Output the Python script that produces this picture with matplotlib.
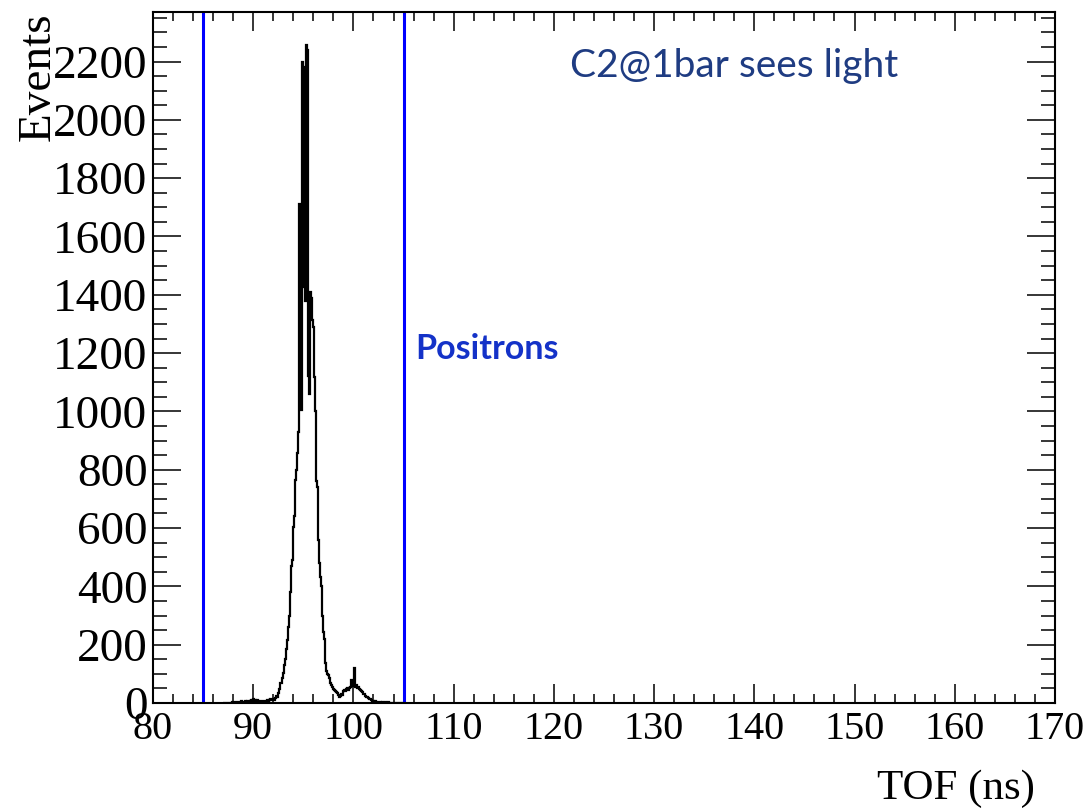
import numpy as np
import matplotlib
matplotlib.use("Agg")
import matplotlib.pyplot as plt
from matplotlib.ticker import MultipleLocator

# histogram data: 0.1 ns bins starting at 87.0 ns
BIN_START = 87.0
BIN_WIDTH = 0.1
counts = [
    # 87.0 - 88.9
    0, 0, 0, 0, 0, 0, 0, 0, 1, 2,
    3, 2, 4, 3, 2, 5, 3, 4, 6, 3,
    # 89.0 - 90.9
    5, 4, 7, 5, 6, 8, 5, 7, 9, 6,
    14, 8, 10, 7, 9, 6, 8, 7, 6, 8,
    # 91.0 - 92.9
    7, 6, 8, 7, 9, 8, 10, 12, 9, 11,
    14, 10, 18, 25, 22, 35, 48, 68, 70, 85,
    # 93.0 - 94.9
    103, 130, 150, 185, 215, 260, 300, 380, 470, 490,
    603, 640, 764, 800, 857, 930, 1710, 1690, 1004, 2197,
    # 95.0 - 96.9
    2180, 1426, 1380, 2258, 2240, 1120, 1060, 1408, 1390, 1312,
    1290, 1117, 1000, 760, 740, 560, 480, 432, 400, 300,
    # 97.0 - 98.9
    243, 220, 137, 110, 100, 96, 85, 68, 60, 55,
    48, 44, 40, 36, 34, 28, 21, 25, 30, 28,
    # 99.0 - 100.9
    40, 45, 42, 48, 50, 46, 52, 55, 79, 58,
    62, 120, 56, 60, 50, 55, 48, 45, 42, 38,
    # 101.0 - 102.9
    30, 32, 25, 22, 20, 18, 15, 14, 10, 8,
    7, 5, 6, 4, 3, 2, 3, 2, 1, 2,
    # 103.0 - 104.9
    1, 2, 1, 1, 2, 1, 0, 1, 0, 0,
    0, 0, 0, 0, 0, 0, 0, 0, 0, 0,
]
cut_lines = [85, 105]

edges = BIN_START + BIN_WIDTH * np.arange(len(counts) + 1)

fig = plt.figure(figsize=(10.92, 8.11), dpi=100)
ax = fig.add_axes([0.1401, 0.1332, 0.826, 0.852])

ax.stairs(counts, edges, color="black", linewidth=1.6)
for xc in cut_lines:
    ax.axvline(xc, color="#0000ff", linewidth=2.2)

ax.set_xlim(80, 170)
ax.set_ylim(0, 2370)

serif = "Liberation Serif"
ax.xaxis.set_major_locator(MultipleLocator(10))
ax.xaxis.set_minor_locator(MultipleLocator(2))
ax.yaxis.set_major_locator(MultipleLocator(200))
ax.yaxis.set_minor_locator(MultipleLocator(50))
ax.tick_params(axis="both", which="both", direction="in", top=True, right=True, width=1.1)
ax.tick_params(axis="x", which="major", length=13.7, pad=6)
ax.tick_params(axis="x", which="minor", length=6.8)
ax.tick_params(axis="y", which="major", length=20, pad=4)
ax.tick_params(axis="y", which="minor", length=10)
for lab in ax.get_xticklabels():
    lab.set_fontfamily(serif)
    lab.set_fontsize(29)
for lab in ax.get_yticklabels():
    lab.set_fontfamily(serif)
    lab.set_fontsize(34)
for sp in ax.spines.values():
    sp.set_linewidth(1.5)

ax.set_xlabel("TOF (ns)", fontfamily=serif, fontsize=31, loc="right")
ax.xaxis.set_label_coords(0.978, -0.097)
ax.set_ylabel("Events", fontfamily=serif, fontsize=34, loc="top")
ax.yaxis.set_label_coords(-0.103, 1.0)

ax.text(121.6, 2186, "C2@1bar sees light", fontfamily="Lato", fontsize=28,
        color="#1f3c82", va="center", ha="left")
ax.text(106.15, 1215, "Positrons", fontfamily="Lato", fontweight="bold",
        fontsize=24.5, color="#1432c8", va="center", ha="left")

plt.savefig("out.png", dpi=100)
